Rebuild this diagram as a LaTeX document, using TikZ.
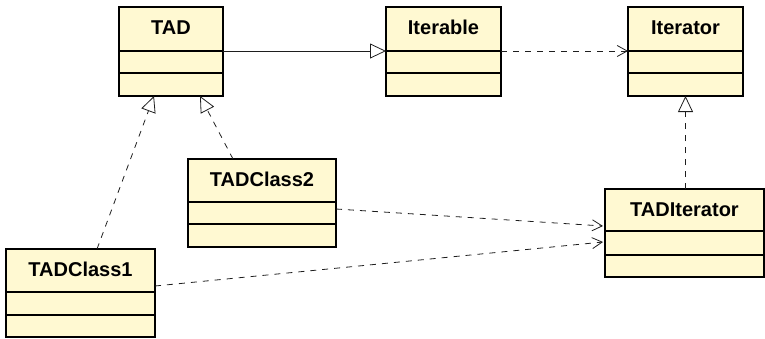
\documentclass[tikz,border=0pt]{standalone}
\usepackage{fontspec}
\setmainfont{Liberation Sans}
\usetikzlibrary{arrows.meta,calc}

\definecolor{classfill}{RGB}{255,249,210}
\definecolor{wire}{RGB}{30,30,30}

\tikzset{
  classbox/.style={draw=black, fill=classfill, line width=1.5pt, anchor=north west,
                   inner sep=0pt, outer sep=0pt},
  classname/.style={font=\bfseries\fontsize{20}{20}\selectfont, anchor=base, inner sep=0pt},
  divider/.style={line width=1.5pt},
  wireline/.style={draw=wire, line width=0.8pt},
  generalization/.style={wireline, -{Triangle[open,length=16pt,width=15pt,line width=0.8pt]}},
  realization/.style={generalization, dash pattern=on 6pt off 6pt},
  dependency/.style={wireline, dash pattern=on 6pt off 6pt,
                     -{Straight Barb[length=10pt,width=11pt,line width=0.8pt]}},
}

% UML class box: name, x, y, width, height, first divider, second divider, title
\newcommand\umlclass[8]{%
  \node[classbox, minimum width=#4pt, minimum height=#5pt] (#1) at (#2,#3) {};
  \node[classname] (#1-title) at ($(#1.north west)+(#4/2,27)$) {#8};
  \draw[divider] ($(#1.north west)+(0,#6)$) -- ($(#1.north east)+(0,#6)$);
  \draw[divider] ($(#1.north west)+(0,#7)$) -- ($(#1.north east)+(0,#7)$);
}

\begin{document}
\begin{tikzpicture}[x=1pt, y=-1pt]
  \useasboundingbox (0,0) rectangle (765,338);

  \umlclass{TAD}{119}{7}{104}{89}{44}{66}{TAD}
  \umlclass{Iterable}{386}{7}{115}{89}{44}{66}{Iterable}
  \umlclass{Iterator}{628}{7}{115}{89}{44}{66}{Iterator}
  \umlclass{TADClass2}{188}{159}{148}{88}{43}{65}{TADClass2}
  \umlclass{TADClass1}{6}{249}{149}{88}{43}{66}{TADClass1}
  \umlclass{TADIterator}{605}{189}{159}{88}{42}{66}{TADIterator}

  % inheritance and realization
  \draw[generalization] ($(TAD.north east)+(0,44)$) -- ($(Iterable.north west)+(0,44)$);
  \draw[realization] (TADIterator.north -| Iterator.south) -- (Iterator.south);
  \draw[realization] ($(TADClass1.north west)+(91,0)$) -- ($(TAD.south west)+(35,0)$);
  \draw[realization] ($(TADClass2.north west)+(45,0)$) -- ($(TAD.south west)+(81,0)$);

  % dependencies
  \draw[dependency] ($(Iterable.north east)+(0,44)$) -- ($(Iterator.north west)+(0,44)$);
  \draw[dependency] ($(TADClass2.north east)+(0,50)$) -- ($(TADIterator.north west)+(-2,37)$);
  \draw[dependency] ($(TADClass1.north east)+(0,37)$) -- ($(TADIterator.north west)+(-2,53)$);
\end{tikzpicture}
\end{document}
